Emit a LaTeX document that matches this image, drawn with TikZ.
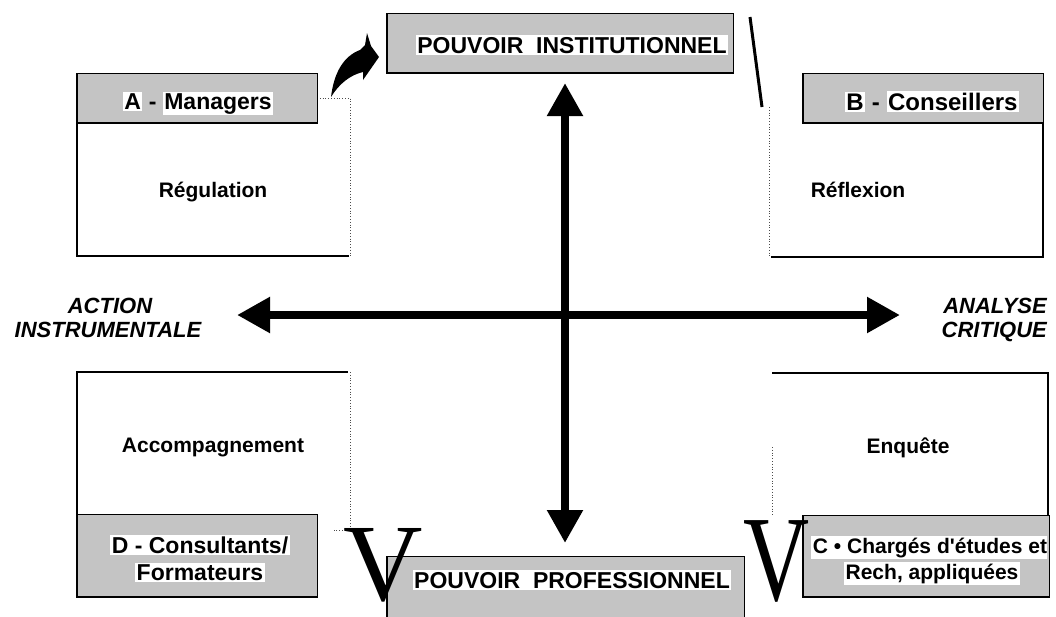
\documentclass[tikz,border=0pt]{standalone}
\usepackage{fontspec}
\setmainfont{Liberation Sans}[Ligatures=TeXOff]
\newfontfamily\serifV{Liberation Serif}
\usetikzlibrary{arrows.meta}
\definecolor{hdrgray}{RGB}{196,196,196}
\setlength{\fboxsep}{1.5pt}
\newcommand{\wb}[1]{\colorbox{white}{#1}}
\begin{document}
\begin{tikzpicture}[x=1pt,y=-1pt,
  hdr/.style={fill=hdrgray,draw=black,line width=1pt},
  thickedge/.style={line width=2.6pt,line cap=rect},
  shadowedge/.style={line width=2pt},
  dotedge/.style={line width=0.8pt,dotted,black!70},
  hfont/.style={font=\fontsize{23}{28}\selectfont\bfseries},
  bfont/.style={font=\fontsize{21}{25}\selectfont\bfseries},
  afont/.style={font=\fontsize{22}{24}\selectfont\bfseries\itshape},
  txt/.style={inner sep=0pt,anchor=base},
  bigarrow/.style={line width=8.5pt,{Triangle[width=34pt,length=33pt]}-{Triangle[width=34pt,length=33pt]}},
  bigV/.style={inner sep=0pt,anchor=base,font=\serifV\fontsize{110}{110}\selectfont}
]
\useasboundingbox (0,0) rectangle (1056,616);

% ---------- top box: POUVOIR INSTITUTIONNEL
\path[hdr] (387,13) rectangle (733,73);
\draw[shadowedge] (387,13) -- (387,73) -- (733,73);
\node[txt,hfont,fill=white,inner sep=1.5pt] (inst) at (572,53) {POUVOIR\ \ INSTITUTIONNEL};

% ---------- bottom box: POUVOIR PROFESSIONNEL
\path[hdr] (387,556) rectangle (744,630);
\draw[shadowedge] (387,556) -- (387,630);
\node[txt,hfont,fill=white,inner sep=1.5pt] (prof) at (572,588) {POUVOIR\ \ PROFESSIONNEL};

% ---------- Box A
\path[fill=white] (77,98) rectangle (350,256);
\draw[thickedge] (77,123) -- (77,256) -- (348,256);
\draw[dotedge] (317,98) -- (350,98) -- (350,256);
\path[hdr] (77,73) rectangle (317,123);
\draw[shadowedge] (77,73) -- (77,123) -- (317,123);
\node[txt,hfont] (Ahead) at (198,109) {\wb{A} - \wb{Managers}};
\node[txt,bfont] (Atext) at (213,197) {Régulation};

% ---------- Box B
\path[fill=white] (769,107) rectangle (1043,257);
\draw[dotedge] (769,107) -- (769,257);
\draw[thickedge] (772,257) -- (1043,257) -- (1043,123);
\path[hdr] (803,73) rectangle (1043,123);
\draw[shadowedge] (803,73) -- (803,123) -- (1043,123);
\node[txt,hfont,font=\fontsize{24}{28}\selectfont\bfseries] (Bhead) at (932,110) {\wb{B} - \wb{Conseillers}};
\node[txt,bfont] (Btext) at (858,197) {Réflexion};

% ---------- Box D
\path[fill=white] (77,372) rectangle (350,523);
\draw[thickedge] (347,372) -- (77,372) -- (77,514);
\draw[dotedge] (350,372) -- (350,530) -- (334,530);
\path[hdr] (77,514) rectangle (317,597);
\draw[shadowedge] (77,514) -- (77,597) -- (317,597);
\node[txt,bfont] (Dtext) at (213,452) {Accompagnement};
\node[txt,hfont] (Dhead) at (200,553) {\wb{D - Consultants/}};
\node[txt,hfont] (Dhead2) at (200,580) {\wb{Formateurs}};

% ---------- Box C
\path[fill=white] (772,373) rectangle (1048,515);
\draw[thickedge] (773,373) -- (1048,373) -- (1048,515);
\draw[dotedge] (772,447) -- (772,515);
\path[hdr] (803,515) rectangle (1049,597);
\draw[shadowedge] (803,515) -- (803,597) -- (1049,597);
\node[txt,bfont] (Ctext) at (908,453) {Enquête};
\begin{scope}
  \clip (803,515) rectangle (1047,597);
  \node[txt,bfont,fill=white,inner sep=1.5pt] (Chead) at (930,553) {C • Chargés d'études et};
\end{scope}
\node[txt,bfont,fill=white,inner sep=1.5pt] (Chead2) at (932,579) {Rech, appliquées};

% ---------- axes
\coordinate (vtop) at (565,83);
\coordinate (vbot) at (565,543);
\coordinate (hleft) at (237,315);
\coordinate (hright) at (900,315);
\draw[bigarrow] (vtop) -- (vbot);
\draw[bigarrow] (hleft) -- (hright);

\node[txt,afont] (act1) at (110,313) {ACTION};
\node[txt,afont] (act2) at (108,337) {INSTRUMENTALE};
\node[txt,afont,anchor=base east] (ana1) at (1047,313) {ANALYSE};
\node[txt,afont,anchor=base east] (ana2) at (1047,337) {CRITIQUE};

% ---------- curved arrow from A to institutional power
\fill (331,97) .. controls (334,72) and (344,56) .. (360,50) -- (365,45) -- (367,33)
  -- (371,46) -- (379,57) -- (363,80) -- (363,72)
  .. controls (350,75) and (339,84) .. (331,97) -- cycle;

% ---------- slash
\draw[line width=3pt] (750,17) -- (762,107);

% ---------- big V letters
\node[bigV] (V1) at (383,600) {V};
\node[bigV,font=\serifV\fontsize{122}{122}\selectfont] (V2) at (777,600) {\scalebox{0.75}[1]{V}};
\end{tikzpicture}
\end{document}
